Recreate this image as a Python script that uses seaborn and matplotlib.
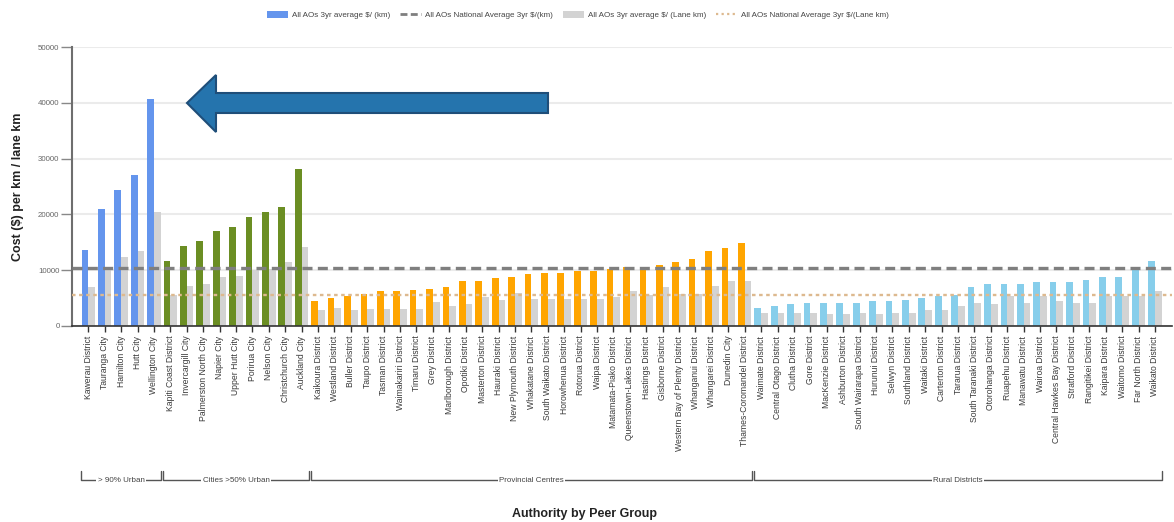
import matplotlib
matplotlib.use("Agg")
import matplotlib.pyplot as plt
from matplotlib.patches import Patch, Polygon
from matplotlib.lines import Line2D
from matplotlib.transforms import blended_transform_factory
import pandas as pd
import seaborn as sns

# ---- data -------------------------------------------------------------
urban90 = ["Kawerau District", "Tauranga City", "Hamilton City", "Hutt City", "Wellington City"]
urban90_km = [13700, 21000, 24400, 27000, 40700]
urban90_lane = [6900, 10200, 12400, 13500, 20500]

cities50 = ["Kapiti Coast District", "Invercargill City", "Palmerston North City", "Napier City",
            "Upper Hutt City", "Porirua City", "Nelson City", "Christchurch City", "Auckland City"]
cities50_km = [11700, 14300, 15300, 17000, 17700, 19500, 20400, 21300, 28100]
cities50_lane = [5600, 7200, 7600, 8800, 9000, 10000, 10200, 11500, 14100]

provincial = ["Kaikoura District", "Westland District", "Buller District", "Taupo District",
              "Tasman District", "Waimakariri District", "Timaru District", "Grey District",
              "Marlborough District", "Opotiki District", "Masterton District", "Hauraki District",
              "New Plymouth District", "Whakatane District", "South Waikato District",
              "Horowhenua District", "Rotorua District", "Waipa District", "Matamata-Piako District",
              "Queenstown-Lakes District", "Hastings District", "Gisborne District",
              "Western Bay of Plenty District", "Whanganui District", "Whangarei District",
              "Dunedin City", "Thames-Coromandel District"]
provincial_km = [4400, 5100, 5400, 5800, 6200, 6200, 6400, 6600, 6900, 8100, 8100, 8600, 8800,
                 9300, 9500, 9500, 9900, 9900, 10200, 10600, 10600, 11000, 11400, 12000, 13500,
                 13900, 14900]
provincial_lane = [2800, 3300, 2800, 3000, 3100, 3100, 3100, 4300, 3500, 4000, 5200, 4700, 6000,
                   4900, 4900, 4900, 4900, 4900, 5200, 6300, 5500, 7000, 5800, 5800, 7200,
                   8100, 8100]

rural = ["Waimate District", "Central Otago District", "Clutha District", "Gore District",
         "MacKenzie District", "Ashburton District", "South Wairarapa District", "Hurunui District",
         "Selwyn District", "Southland District", "Waitaki District", "Carterton District",
         "Tararua District", "South Taranaki District", "Otorohanga District", "Ruapehu District",
         "Manawatu District", "Wairoa District", "Central Hawkes Bay District", "Stratford District",
         "Rangitikei District", "Kaipara District", "Waitomo District", "Far North District",
         "Waikato District"]
rural_km = [3200, 3600, 3900, 4100, 4100, 4200, 4200, 4400, 4400, 4700, 5100, 5300, 5600, 7000,
            7500, 7600, 7600, 7800, 7800, 7900, 8200, 8800, 8800, 10500, 11600]
rural_lane = [2300, 2300, 2400, 2300, 2100, 2100, 2400, 2100, 2400, 2300, 2900, 2900, 3600, 4200,
              3900, 5300, 4100, 5400, 4400, 4100, 4100, 5300, 5300, 5300, 6300]

group_names = ["> 90% Urban", "Cities >50% Urban", "Provincial Centres", "Rural Districts"]
group_colors = ["#6495ED", "#6B8E23", "#FFA500", "#87CEEB"]

national_avg_km = 10450
national_avg_lane = 5500

KM = "All AOs 3yr average $/ (km)"
LANE = "All AOs 3yr average $/ (Lane km)"
NAT_KM = "All AOs National Average 3yr $/(km)"
NAT_LANE = "All AOs National Average 3yr $/(Lane km)"

groups = [(urban90, urban90_km, urban90_lane),
          (cities50, cities50_km, cities50_lane),
          (provincial, provincial_km, provincial_lane),
          (rural, rural_km, rural_lane)]

rows = []
for gname, (names, km, lane) in zip(group_names, groups):
    for n, a, b in zip(names, km, lane):
        rows.append({"authority": n, "group": gname, "metric": KM, "cost": a})
        rows.append({"authority": n, "group": gname, "metric": LANE, "cost": b})
df = pd.DataFrame(rows)
order = [n for names, _, _ in groups for n in names]
group_of = dict(zip(df["authority"], df["group"]))

# ---- figure -----------------------------------------------------------
sns.set_theme(style="white")
plt.rcParams["font.family"] = ["Liberation Sans", "DejaVu Sans"]

W, H = 1174, 522
fig = plt.figure(figsize=(W / 100, H / 100), dpi=100)
ax_l, ax_r, ax_t, ax_b = 72, 1172, 47, 326
ax = fig.add_axes([ax_l / W, 1 - ax_b / H, (ax_r - ax_l) / W, (ax_b - ax_t) / H])

sns.barplot(data=df, x="authority", y="cost", hue="metric", order=order,
            hue_order=[KM, LANE], palette={KM: "#6495ED", LANE: "#D3D3D3"},
            width=0.82, saturation=1, dodge=True, legend=False, ax=ax, zorder=2)

# colour the $/km bars by peer group
color_of = dict(zip(group_names, group_colors))
for patch, name in zip(ax.containers[0], order):
    patch.set_facecolor(color_of[group_of[name]])
    patch.set_edgecolor("none")
for patch in ax.containers[1]:
    patch.set_edgecolor("none")

ax.axhline(national_avg_km, color="#7F7F7F", lw=2.4, ls=(0, (3.0, 1.6)), zorder=3)
ax.axhline(national_avg_lane, color="#DDB98F", lw=1.7, ls=(0, (1.5, 1.5)), zorder=3)

ax.set_ylim(0, 50000)
step = 16.41
ax.set_xlim(-(88.3 - ax_l) / step, (ax_r - 88.3) / step)
ax.set_yticks(range(0, 50001, 10000))
ax.yaxis.grid(True, color="#EBEBEB", lw=1.5, zorder=0)
ax.set_axisbelow(True)

for s in ["top", "right"]:
    ax.spines[s].set_visible(False)
ax.spines["left"].set_color("#6E6E6E")
ax.spines["left"].set_linewidth(1.5)
ax.spines["bottom"].set_color("#333333")
ax.spines["bottom"].set_linewidth(1.2)

ax.tick_params(axis="y", labelsize=5.7, labelcolor="#666666", length=8, width=1,
               color="#888888", pad=1, left=True)
ax.tick_params(axis="x", labelsize=6.2, labelcolor="#3A3A3A", length=4, width=1,
               color="#333333", pad=3, rotation=90, bottom=True)

ax.set_xlabel("")
ax.set_ylabel("Cost ($) per km / lane km", fontsize=9, fontweight="bold", color="#222222")
ax.yaxis.label.set_verticalalignment("center")
ax.yaxis.set_label_coords(-(ax_l - 18) / (ax_r - ax_l), 0.5)

# peer group brackets under the tick labels
trans = blended_transform_factory(ax.transData, ax.transAxes)
y_line = -(480 - ax_b) / (ax_b - ax_t)
y_tick = -(471 - ax_b) / (ax_b - ax_t)
start = 0
for gname, (names, _, _) in zip(group_names, groups):
    x0 = start - 0.45
    x1 = start + len(names) - 1 + 0.45
    ax.plot([x0, x0, x1, x1], [y_tick, y_line, y_line, y_tick], color="#555555", lw=1,
            transform=trans, clip_on=False)
    ax.text((x0 + x1) / 2, y_line, gname, transform=trans, ha="center", va="center",
            fontsize=5.8, color="#444444",
            bbox=dict(boxstyle="square,pad=0.15", fc="white", ec="none"))
    start += len(names)

fig.text(585 / W, 1 - 514 / H, "Authority by Peer Group", ha="center", va="center",
         fontsize=9, fontweight="bold", color="#222222")

# legend
handles = [Patch(facecolor="#6495ED", edgecolor="none", label=KM),
           Line2D([], [], color="#7F7F7F", lw=2, ls=(0, (2.5, 1.2)), label=NAT_KM),
           Patch(facecolor="#D3D3D3", edgecolor="none", label=LANE),
           Line2D([], [], color="#DDB98F", lw=1.6, ls=(0, (1, 1.5)), label=NAT_LANE)]
fig.legend(handles=handles, loc="center", bbox_to_anchor=(578 / W, 1 - 15 / H), ncol=4,
           frameon=False, fontsize=5.8, handlelength=2.6, handleheight=0.9,
           columnspacing=1.2, handletextpad=0.5, labelcolor="#444444")

# call-out arrow pointing at the tallest bar
arrow_px = [(187, 103), (216, 75), (216, 93), (548, 93), (548, 113), (216, 113), (216, 132)]
arrow = Polygon([(x / W, 1 - y / H) for x, y in arrow_px], closed=True,
                transform=fig.transFigure, facecolor="#2574AD", edgecolor="#1F4E79",
                lw=1.5, zorder=10)
fig.add_artist(arrow)

fig.savefig("out.png", dpi=100)
